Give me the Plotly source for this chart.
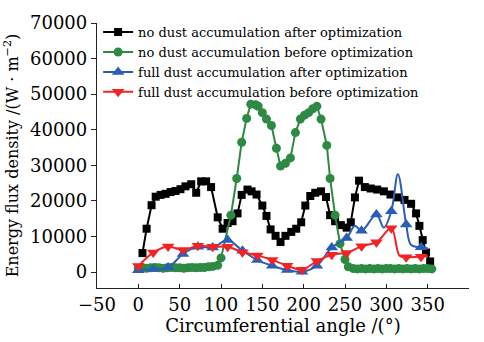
import plotly.graph_objects as go

# ---- data ----
black_angle = [5, 10, 16, 21, 27, 33, 39, 45, 51, 57, 64, 70, 76, 82, 88, 96, 102, 108, 114, 120,
               125, 132, 137, 143, 150, 155, 160, 166, 172, 178, 185, 191, 197, 202, 208, 214, 221,
               227, 232, 238, 245, 252, 257, 262, 267, 274, 281, 289, 297, 305, 313, 322, 330, 336,
               340, 344, 348, 353]
black_value = [5350, 12200, 18800, 21200, 21700, 22000, 22500, 22800, 23300, 24100, 24700, 22300,
               25500, 25500, 23900, 15400, 12200, 13800, 14300, 16500, 21700, 23200, 22700, 21800,
               18700, 15800, 12000, 10200, 8450, 10200, 11300, 12200, 14000, 18700, 21400, 22300,
               22700, 21100, 16000, 14300, 13200, 12500, 14000, 21000, 25700, 23900, 23500, 23200,
               22700, 21800, 21000, 20300, 19200, 16500, 13000, 9000, 5500, 3000]

green_angle = [0, 5, 10, 15, 20, 25, 30, 35, 40, 45, 50, 55, 60, 65, 70, 75, 80, 85, 90, 96,
               100, 112, 119, 125, 131, 136, 142, 145, 150, 155, 161, 167, 172, 178, 184, 190,
               196, 201, 206, 211, 216, 221, 228, 232, 238, 244, 250, 254, 260, 265, 270, 275,
               280, 285, 290, 295, 300, 305, 310, 315, 320, 325, 330, 335, 340, 345, 350, 355]
green_value = [1100, 1200, 1100, 1200, 1300, 1200, 1100, 1200, 1300, 1200, 1200, 1100, 1200, 1300,
               1200, 1300, 1300, 1500, 1600, 1900, 4000, 16000, 26300, 36500, 43200, 47200, 47000,
               46600, 44800, 43000, 41200, 34800, 29800, 30600, 32100, 39200, 43000, 44100, 44800,
               45900, 46600, 43000, 35600, 26300, 16000, 8000, 3560, 1500, 1000, 900, 1000, 900,
               1000, 900, 1000, 900, 1000, 1000, 900, 1000, 900, 1000, 900, 1000, 900, 1000, 1000,
               900]

blue_angle = [0, 18, 36, 54, 72, 90, 108, 126, 144, 162, 180, 198, 216, 234, 252, 262, 270, 288,
              297, 306, 314, 324, 330, 342, 350]
blue_value = [500, 900, 1300, 5100, 7100, 6900, 9000, 6000, 3400, 1800, 600, 100, 1800, 6900,
              9600, 13000, 11600, 16200, 12500, 17100, 27500, 13400, 7600, 7000, 6700]
blue_marked = [1, 1, 1, 1, 1, 1, 1, 1, 1, 1, 1, 1, 1, 1, 1, 0, 1, 1, 0, 1, 0, 1, 0, 1, 0]

red_angle = [0, 18, 36, 54, 72, 90, 108, 126, 144, 162, 180, 198, 216, 234, 252, 270, 288, 306,
             316, 324, 342, 350]
red_value = [1700, 5500, 7200, 6200, 7400, 7100, 7100, 5600, 4700, 3400, 1800, 700, 3100, 4900,
             5400, 7300, 8400, 12300, 4600, 4200, 4300, 4500]
red_marked = [1, 1, 1, 1, 1, 1, 1, 1, 1, 1, 1, 1, 1, 1, 1, 1, 1, 1, 0, 1, 1, 0]

names = ["no dust accumulation after optimization",
         "no dust accumulation before optimization",
         "full dust accumulation after optimization",
         "full dust accumulation before optimization"]
x_ticks = [-50, 0, 50, 100, 150, 200, 250, 300, 350, 400]
y_ticks = [0, 10000, 20000, 30000, 40000, 50000, 60000, 70000]

BLACK = "#000000"
GREEN = "#2e8a42"
BLUE = "#2a5db5"
RED = "#f02424"
FONT = "DejaVu Serif"


def colors(col, marked):
    return [col if m else "rgba(0,0,0,0)" for m in marked]


fig = go.Figure()
fig.add_trace(go.Scatter(x=black_angle, y=black_value, name=names[0], mode="lines+markers",
                         line=dict(color=BLACK, width=2),
                         marker=dict(symbol="square", size=8, color=BLACK)))
fig.add_trace(go.Scatter(x=green_angle, y=green_value, name=names[1], mode="lines+markers",
                         line=dict(color=GREEN, width=2),
                         marker=dict(symbol="circle", size=9, color=GREEN)))
fig.add_trace(go.Scatter(x=blue_angle, y=blue_value, name=names[2], mode="lines+markers",
                         line=dict(color=BLUE, width=2, shape="spline", smoothing=1.0),
                         marker=dict(symbol="triangle-up", size=11,
                                     color=colors(BLUE, blue_marked), line=dict(width=0))))
fig.add_trace(go.Scatter(x=red_angle, y=red_value, name=names[3], mode="lines+markers",
                         line=dict(color=RED, width=2, shape="spline", smoothing=1.0),
                         marker=dict(symbol="triangle-down", size=11,
                                     color=colors(RED, red_marked), line=dict(width=0))))

fig.update_layout(
    width=484, height=342,
    margin=dict(l=95, r=15, t=16, b=47),
    paper_bgcolor="white", plot_bgcolor="white",
    font=dict(family=FONT, color="black", size=18),
    showlegend=True,
    legend=dict(x=0.003, y=1.022, xanchor="left", yanchor="top",
                bgcolor="rgba(0,0,0,0)", font=dict(family=FONT, size=13, color="black"),
                itemwidth=30, tracegroupgap=0),
)
fig.update_xaxes(range=[-50, 400], tickvals=x_ticks, ticks="inside", ticklen=4,
                 tickcolor="#222", showline=True, linecolor="#222", linewidth=1.3,
                 showgrid=False, zeroline=False, mirror=False,
                 tickfont=dict(family=FONT, size=18),
                 title=dict(text="Circumferential angle /(°)", font=dict(family=FONT, size=18),
                            standoff=3))
fig.update_yaxes(range=[-4460, 70000], tickvals=y_ticks, tickformat="d", ticks="outside",
                 ticklen=5, tickcolor="#222", showline=True, linecolor="#222", linewidth=1.3,
                 showgrid=False, zeroline=False, mirror=False,
                 tickfont=dict(family=FONT, size=18),
                 title=dict(text="Energy flux density /(W · m<sup>−2</sup>)",
                            font=dict(family=FONT, size=16), standoff=7))

fig.write_html("out.html")
